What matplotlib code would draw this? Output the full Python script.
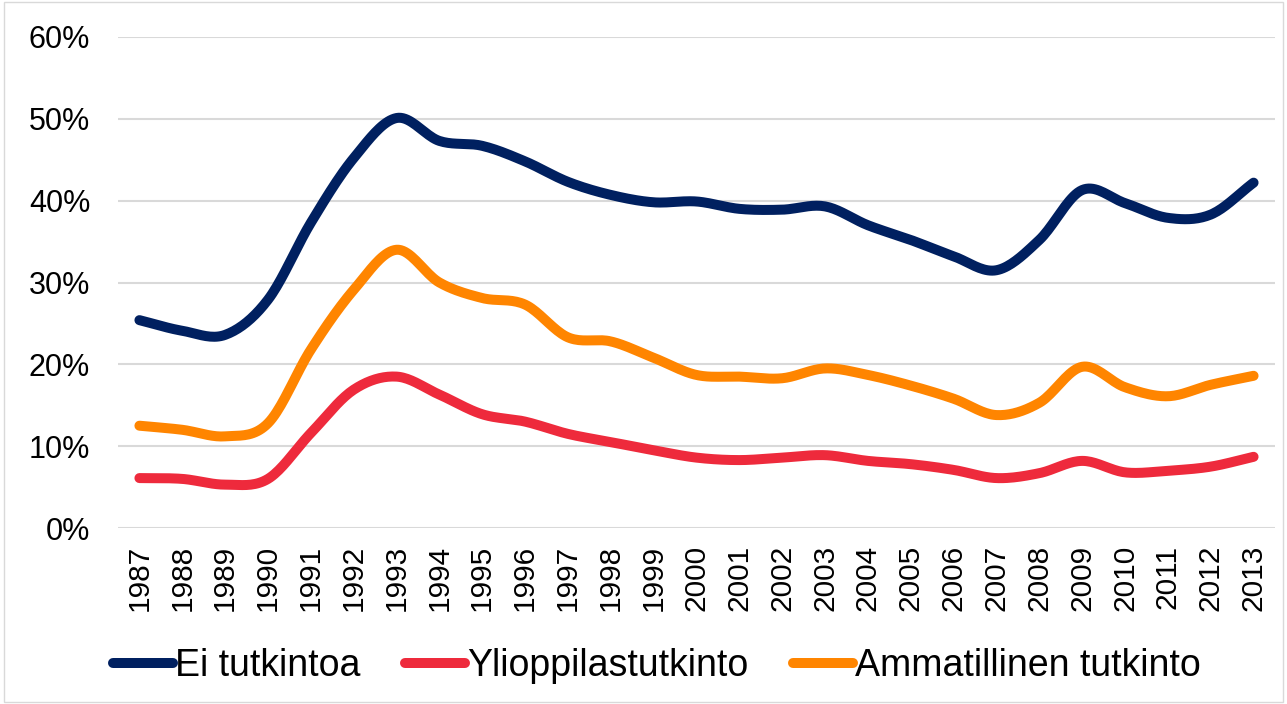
import numpy as np
import matplotlib
matplotlib.use("Agg")
import matplotlib.pyplot as plt
from matplotlib.patches import Rectangle

years = list(range(1987, 2014))

ei_tutkintoa = [25.4, 24.1, 23.6, 27.9, 37.3, 45.2, 50.1, 47.3, 46.7, 44.8, 42.3,
                40.7, 39.8, 39.9, 39.0, 38.9, 39.3, 37.0, 35.2, 33.2, 31.5, 35.2,
                41.3, 39.7, 37.9, 38.3, 42.2]
ylioppilastutkinto = [6.1, 6.0, 5.3, 6.0, 11.6, 16.9, 18.5, 16.3, 13.9, 13.0, 11.5,
                      10.5, 9.5, 8.6, 8.3, 8.6, 8.9, 8.2, 7.8, 7.1, 6.1, 6.7,
                      8.2, 6.8, 7.0, 7.5, 8.7]
ammatillinen = [12.5, 12.0, 11.2, 12.8, 21.8, 29.1, 34.0, 30.0, 28.1, 27.3, 23.3,
                22.8, 20.8, 18.7, 18.5, 18.3, 19.5, 18.7, 17.4, 15.8, 13.8, 15.3,
                19.7, 17.2, 16.1, 17.5, 18.6]

series = [("Ei tutkintoa", ei_tutkintoa, "#002060"),
          ("Ylioppilastutkinto", ylioppilastutkinto, "#EE2A3C"),
          ("Ammatillinen tutkinto", ammatillinen, "#FF8500")]


def smooth(x, y, n=20):
    # Catmull-Rom smoothing, close to Excel's "smoothed line"
    x = np.asarray(x, float)
    y = np.asarray(y, float)
    px = np.concatenate([[2 * x[0] - x[1]], x, [2 * x[-1] - x[-2]]])
    py = np.concatenate([[2 * y[0] - y[1]], y, [2 * y[-1] - y[-2]]])
    t = np.linspace(0, 1, n, endpoint=False)
    xs, ys = [], []
    for i in range(1, len(px) - 2):
        for p, out in ((px, xs), (py, ys)):
            p0, p1, p2, p3 = p[i - 1], p[i], p[i + 1], p[i + 2]
            out.append(0.5 * ((2 * p1) + (-p0 + p2) * t
                              + (2 * p0 - 5 * p1 + 4 * p2 - p3) * t ** 2
                              + (-p0 + 3 * p1 - 3 * p2 + p3) * t ** 3))
    xs.append([x[-1]])
    ys.append([y[-1]])
    return np.concatenate(xs), np.concatenate(ys)


plt.rcParams['font.family'] = ['Liberation Sans', 'DejaVu Sans']

fig = plt.figure(figsize=(12.87, 7.04), dpi=100)
ax = fig.add_axes([118 / 1287, 176 / 704, 1157 / 1287, 491 / 704])

idx = np.arange(len(years))
for name, vals, col in series:
    sx, sy = smooth(idx, vals)
    ax.plot(sx, sy, color=col, lw=7.2, solid_capstyle='round', label=name)

ax.set_xlim(-0.5, len(years) - 0.5)
ax.set_ylim(0, 60)
ax.set_yticks(range(0, 61, 10))
ax.set_yticklabels([f"{v}%" for v in range(0, 61, 10)], fontsize=22)
ax.set_xticks(idx)
ax.set_xticklabels([str(y) for y in years], rotation=90, fontsize=21.5)
ax.tick_params(axis='y', length=0, pad=20)
ax.tick_params(axis='x', length=0, pad=12)
ax.grid(axis='y', color='#d9d9d9', lw=1.5)
ax.set_axisbelow(True)
for s in ax.spines.values():
    s.set_visible(False)

fig.legend(loc='center', bbox_to_anchor=(657 / 1287, (704 - 666) / 704),
           ncol=3, frameon=False, fontsize=27, handlelength=1.6,
           handletextpad=0.05, columnspacing=1.2)

fig.patches.append(Rectangle((0.003, 0.003), 0.994, 0.994, transform=fig.transFigure,
                             fill=False, edgecolor='#d9d9d9', lw=1))

fig.savefig("out.png", dpi=100)
